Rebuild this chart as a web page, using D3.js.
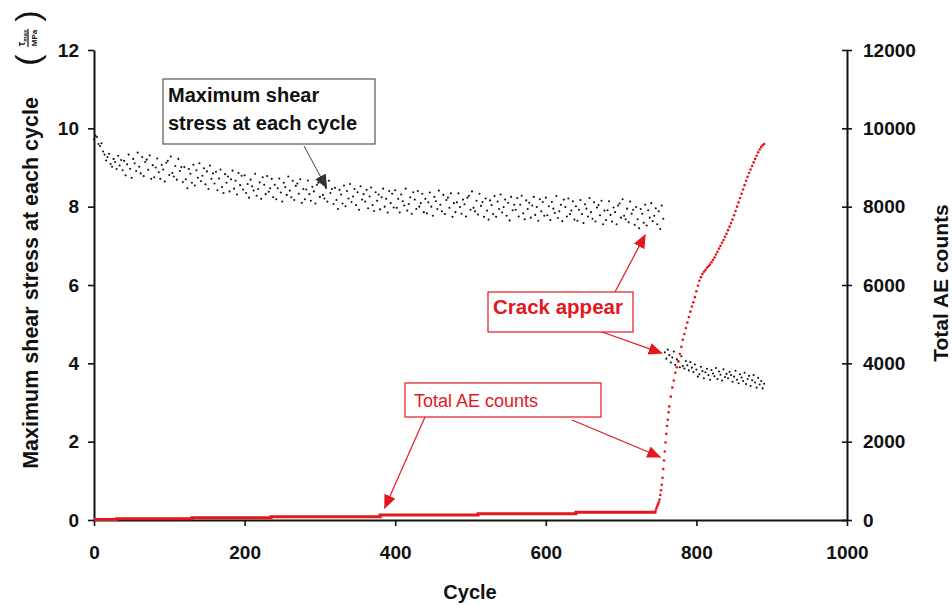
<!DOCTYPE html>
<html>
<head>
<meta charset="utf-8">
<script src="https://cdn.jsdelivr.net/npm/d3@7"></script>
<style>
  body { margin: 0; background: #fff; }
  svg { font-family: 'Liberation Sans', Arial, sans-serif; }
  .axis path, .axis line { stroke: #111; }
  .axis text { font-size: 19px; font-weight: bold; fill: #111; font-family: 'Liberation Sans', Arial, sans-serif; }
</style>
</head>
<body>
<div id="chart"></div>
<script>
// axis ticks
const cycleTicks = [0, 200, 400, 600, 800, 1000];
const stressTicks = [0, 2, 4, 6, 8, 10, 12];
const aeTicks = [0, 2000, 4000, 6000, 8000, 10000, 12000];

// max shear stress (MPa), before crack: cycles 0, 2, 4 ... 756
const stressStart = 0, stressStep = 2;
const stressBefore = [
  9.72, 9.81, 9.78, 9.60, 9.55, 9.62, 9.41, 9.33, 9.18, 9.27, 9.35, 9.09, 9.02, 9.22, 9.14, 8.96, 9.30, 9.05, 9.19, 8.93,
  9.17, 8.80, 9.08, 9.33, 8.97, 8.74, 9.22, 9.11, 8.91, 9.38, 9.02, 8.85, 9.27, 8.78, 9.14, 9.20, 8.94, 9.31, 8.71, 9.06,
  8.75, 9.00, 9.23, 8.88, 8.71, 9.07, 8.95, 8.64, 9.12, 9.17, 8.81, 9.28, 8.86, 8.77, 9.04, 8.69, 9.22, 8.91, 9.01, 8.63,
  9.01, 8.70, 8.47, 8.96, 8.84, 8.61, 9.07, 8.54, 8.93, 8.74, 9.11, 8.65, 8.79, 8.98, 8.57, 8.90, 8.45, 9.05, 8.71, 8.85,
  8.59, 8.89, 8.42, 8.72, 8.95, 8.50, 8.35, 8.83, 8.61, 8.77, 8.39, 8.70, 8.92, 8.46, 8.66, 8.31, 8.86, 8.55, 8.79, 8.44,
  8.80, 8.35, 8.58, 8.23, 8.69, 8.52, 8.41, 8.84, 8.28, 8.45, 8.62, 8.20, 8.75, 8.56, 8.32, 8.78, 8.38, 8.47, 8.71, 8.24,
  8.56, 8.19, 8.47, 8.72, 8.36, 8.13, 8.61, 8.50, 8.30, 8.77, 8.41, 8.24, 8.66, 8.17, 8.53, 8.59, 8.33, 8.70, 8.10, 8.45,
  8.19, 8.44, 8.67, 8.32, 8.15, 8.51, 8.39, 8.08, 8.56, 8.61, 8.25, 8.72, 8.30, 8.21, 8.48, 8.13, 8.66, 8.35, 8.45, 8.07,
  8.48, 8.17, 7.94, 8.43, 8.31, 8.08, 8.54, 8.01, 8.40, 8.21, 8.58, 8.12, 8.26, 8.45, 8.04, 8.37, 7.92, 8.52, 8.18, 8.32,
  8.13, 8.43, 7.96, 8.26, 8.49, 8.04, 7.89, 8.37, 8.15, 8.31, 7.93, 8.24, 8.46, 8.00, 8.20, 7.85, 8.40, 8.09, 8.33, 7.98,
  8.42, 7.97, 8.20, 7.85, 8.31, 8.14, 8.03, 8.46, 7.90, 8.07, 8.24, 7.82, 8.37, 8.18, 7.94, 8.40, 8.00, 8.09, 8.33, 7.86,
  8.20, 7.83, 8.11, 8.36, 8.00, 7.77, 8.25, 8.14, 7.94, 8.41, 8.05, 7.88, 8.30, 7.81, 8.17, 8.23, 7.97, 8.34, 7.74, 8.09,
  7.86, 8.11, 8.34, 7.99, 7.82, 8.18, 8.06, 7.75, 8.23, 8.28, 7.92, 8.39, 7.97, 7.88, 8.15, 7.80, 8.33, 8.02, 8.12, 7.74,
  8.21, 7.90, 7.67, 8.16, 8.04, 7.81, 8.27, 7.74, 8.13, 7.94, 8.31, 7.85, 7.99, 8.18, 7.77, 8.10, 7.65, 8.25, 7.91, 8.05,
  7.92, 8.22, 7.75, 8.05, 8.28, 7.83, 7.68, 8.16, 7.94, 8.10, 7.72, 8.03, 8.25, 7.79, 7.99, 7.64, 8.19, 7.88, 8.12, 7.77,
  8.23, 7.78, 8.01, 7.66, 8.12, 7.95, 7.84, 8.27, 7.71, 7.88, 8.05, 7.63, 8.18, 7.99, 7.75, 8.21, 7.81, 7.90, 8.14, 7.67,
  8.01, 7.64, 7.92, 8.17, 7.81, 7.58, 8.06, 7.95, 7.75, 8.22, 7.86, 7.69, 8.11, 7.62, 7.98, 8.04, 7.78, 8.15, 7.55, 7.90,
  7.66, 7.91, 8.14, 7.79, 7.62, 7.98, 7.86, 7.55, 8.03, 8.08, 7.72, 8.19, 7.77, 7.68, 7.95, 7.60, 8.13, 7.82, 7.92, 7.54,
  7.99, 7.68, 7.45, 7.94, 7.82, 7.59, 8.05, 7.52, 7.91, 7.72, 8.09, 7.63, 7.77, 7.96, 7.55, 7.88, 7.43, 8.03, 7.69
];

// max shear stress (MPa), after crack: cycles 758, 760 ... 890
const crackStart = 758;
const stressAfter = [
  4.28, 4.12, 4.35, 4.21, 4.02, 4.15, 4.30, 3.96, 4.10, 4.05, 3.90, 4.18, 3.93, 3.87, 4.06, 3.95, 3.82, 4.03, 3.89, 3.78, 3.97,
  3.84, 3.66, 3.72, 3.91, 3.80, 3.62, 3.77, 3.86, 3.70, 3.58, 3.83, 3.74, 3.67, 3.88, 3.60, 3.79, 3.71, 3.56, 3.85, 3.65, 3.73,
  3.62, 3.78, 3.70, 3.53, 3.66, 3.81, 3.58, 3.49, 3.72, 3.64, 3.55, 3.76, 3.47, 3.60, 3.68, 3.42, 3.57, 3.70, 3.51, 3.38, 3.63, 3.46, 3.55, 3.36, 3.48
];

// total AE counts, quiet stage (step line)
const aeFlatCycles = [0, 30, 130, 235, 380, 510, 640, 745];
const aeFlatCounts = [10, 30, 55, 80, 125, 160, 195, 210];

// total AE counts, after crack onset (dots)
const aeRiseCycles = [745, 746, 747, 748, 749, 750, 751, 752, 753, 754, 755, 756, 757, 758, 759, 760, 761, 762, 763, 764,
  766, 768, 770, 772, 774, 776, 778, 780, 782, 784, 786, 788, 790, 792, 794, 796, 798, 800, 802, 804, 806, 808, 810,
  812, 814, 816, 818, 820, 822, 824, 826, 828, 830, 832, 834, 836, 838, 840, 842, 844, 846, 848, 850, 852, 854, 856,
  858, 860, 862, 864, 866, 868, 870, 872, 874, 876, 878, 880, 882, 884, 886, 888, 890];
const aeRiseCounts = [205, 240, 300, 350, 400, 450, 520, 640, 760, 900, 1080, 1300, 1520, 1750, 1980, 2200, 2400, 2560, 2750, 2900,
  3150, 3380, 3560, 3760, 3900, 4050, 4240, 4420, 4600, 4750, 4900, 5040, 5180, 5320, 5450, 5560, 5690, 5840, 5980, 6110, 6200, 6280, 6340,
  6380, 6440, 6480, 6520, 6580, 6640, 6700, 6780, 6850, 6930, 7000, 7080, 7150, 7230, 7310, 7400, 7490, 7580, 7670, 7780, 7890, 8000, 8110,
  8220, 8330, 8440, 8550, 8660, 8760, 8860, 8950, 9040, 9130, 9220, 9300, 9390, 9460, 9520, 9570, 9600];

const width = 952, height = 605;
const red = '#e3181f';

const svg = d3.select('#chart').append('svg')
  .attr('width', width)
  .attr('height', height);

svg.append('rect').attr('width', width).attr('height', height).attr('fill', '#fff');

const x = d3.scaleLinear().domain([0, 1000]).range([94, 847]);
const yL = d3.scaleLinear().domain([0, 12]).range([520, 50]);
const yR = d3.scaleLinear().domain([0, 12000]).range([520, 50]);

// arrow heads
const defs = svg.append('defs');
[['head-black', '#333'], ['head-red', red]].forEach(([id, c]) => {
  defs.append('marker')
    .attr('id', id)
    .attr('markerUnits', 'userSpaceOnUse')
    .attr('markerWidth', 14).attr('markerHeight', 12)
    .attr('refX', 13).attr('refY', 6)
    .attr('orient', 'auto')
    .append('path')
    .attr('d', 'M0,0 L14,6 L0,12 Z')
    .attr('fill', c);
});

// axes
svg.append('g')
  .attr('class', 'axis')
  .attr('transform', 'translate(0,520)')
  .call(d3.axisBottom(x).tickValues(cycleTicks).tickSize(6).tickPadding(20).tickSizeOuter(0).tickFormat(d3.format('d')));

svg.append('g')
  .attr('class', 'axis')
  .attr('transform', 'translate(94,0)')
  .call(d3.axisLeft(yL).tickValues(stressTicks).tickSize(6).tickPadding(9).tickSizeOuter(0));

const right = svg.append('g')
  .attr('class', 'axis')
  .attr('transform', 'translate(847,0)')
  .call(d3.axisRight(yR).tickValues(aeTicks).tickSize(5).tickPadding(11).tickSizeOuter(0).tickFormat(d3.format('d')));
right.selectAll('.tick line').attr('x1', -5);

svg.selectAll('.axis path.domain').attr('stroke-width', 2);
svg.selectAll('.axis .tick line').attr('stroke-width', 1.6);

// scatter: max shear stress
const stressPts = stressBefore.map((v, i) => [stressStart + i * stressStep, v])
  .concat(stressAfter.map((v, i) => [crackStart + i * stressStep, v]));

svg.append('g')
  .selectAll('circle')
  .data(stressPts)
  .join('circle')
  .attr('cx', d => x(d[0]))
  .attr('cy', d => yL(d[1]))
  .attr('r', 1.05)
  .attr('fill', '#111');

// AE counts
const aeLine = d3.line()
  .x(d => x(d[0]))
  .y(d => yR(d[1]))
  .curve(d3.curveStepAfter);

svg.append('path')
  .datum(aeFlatCycles.map((c, i) => [c, aeFlatCounts[i]]))
  .attr('d', aeLine)
  .attr('fill', 'none')
  .attr('stroke', red)
  .attr('stroke-width', 3);

svg.append('g')
  .selectAll('circle')
  .data(aeRiseCycles.map((c, i) => [c, aeRiseCounts[i]]))
  .join('circle')
  .attr('cx', d => x(d[0]))
  .attr('cy', d => yR(d[1]))
  .attr('r', 1.3)
  .attr('fill', red);

// axis titles
svg.append('text')
  .attr('x', 470).attr('y', 599)
  .attr('text-anchor', 'middle')
  .attr('font-size', 20).attr('font-weight', 'bold').attr('fill', '#111')
  .text('Cycle');

svg.append('text')
  .attr('transform', 'translate(38,283) rotate(-90)')
  .attr('text-anchor', 'middle')
  .attr('font-size', 21.5).attr('font-weight', 'bold').attr('fill', '#111')
  .text('Maximum shear stress at each cycle');

const unit = svg.append('g').attr('transform', 'translate(28,38) rotate(-90)');
unit.append('text').attr('x', -22).attr('y', 11).attr('text-anchor', 'middle')
  .attr('font-size', 34).attr('fill', '#111').text('(');
unit.append('text').attr('x', 22).attr('y', 11).attr('text-anchor', 'middle')
  .attr('font-size', 34).attr('fill', '#111').text(')');
unit.append('line').attr('x1', -9).attr('x2', 9).attr('y1', 0).attr('y2', 0)
  .attr('stroke', '#111').attr('stroke-width', 1.2);
const num = unit.append('text').attr('x', 0).attr('y', -3).attr('text-anchor', 'middle')
  .attr('font-size', 10).attr('font-weight', 'bold').attr('fill', '#111');
num.append('tspan').text('τ');
num.append('tspan').attr('font-size', 6).attr('dy', 2).text('max');
unit.append('text').attr('x', 0).attr('y', 9).attr('text-anchor', 'middle')
  .attr('font-size', 8).attr('font-weight', 'bold').attr('fill', '#111').text('MPa');

svg.append('text')
  .attr('transform', 'translate(948,283) rotate(-90)')
  .attr('text-anchor', 'middle')
  .attr('font-size', 21).attr('font-weight', 'bold').attr('fill', '#111')
  .text('Total AE counts');

// annotations
function arrow(x1, y1, x2, y2, color, marker, w) {
  svg.append('line')
    .attr('x1', x1).attr('y1', y1).attr('x2', x2).attr('y2', y2)
    .attr('stroke', color).attr('stroke-width', w)
    .attr('marker-end', `url(#${marker})`);
}

// stress label
svg.append('rect').attr('x', 163).attr('y', 79).attr('width', 212).attr('height', 65)
  .attr('fill', '#fff').attr('stroke', '#555').attr('stroke-width', 1.2);
const t1 = svg.append('text').attr('font-size', 20).attr('font-weight', 'bold').attr('fill', '#111');
t1.append('tspan').attr('x', 168).attr('y', 102).text('Maximum shear');
t1.append('tspan').attr('x', 168).attr('y', 130).text('stress at each cycle');
arrow(304, 146, x(309), yL(8.48), '#444', 'head-black', 1);

// crack label
svg.append('rect').attr('x', 488).attr('y', 292).attr('width', 145).attr('height', 40)
  .attr('fill', '#fff').attr('stroke', red).attr('stroke-width', 1.2);
svg.append('text').attr('x', 493).attr('y', 314)
  .attr('font-size', 20.5).attr('font-weight', 'bold').attr('fill', red)
  .text('Crack appear');
arrow(615, 292, x(732), yL(7.28), red, 'head-red', 1.2);
arrow(602, 332, x(754), yL(4.26), red, 'head-red', 1.2);

// AE label
svg.append('rect').attr('x', 405).attr('y', 383).attr('width', 196).attr('height', 34)
  .attr('fill', '#fff').attr('stroke', red).attr('stroke-width', 1.2);
svg.append('text').attr('x', 414).attr('y', 407)
  .attr('font-size', 18).attr('fill', red)
  .text('Total AE counts');
arrow(425, 417, x(386), yR(306), red, 'head-red', 1.2);
arrow(572, 420, x(752), yR(1608), red, 'head-red', 1.2);
</script>
</body>
</html>
